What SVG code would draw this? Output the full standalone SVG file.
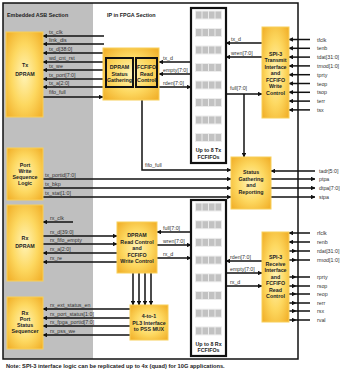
<svg xmlns="http://www.w3.org/2000/svg" width="345" height="372" viewBox="0 0 345 372">
<defs>
<radialGradient id="yg" cx="50%" cy="50%" r="65%">
<stop offset="0" stop-color="#FFF4B8"/>
<stop offset="0.55" stop-color="#FDD860"/>
<stop offset="1" stop-color="#F2B22C"/>
</radialGradient>
<marker id="ah" viewBox="0 0 10 10" refX="9" refY="5" markerWidth="4.6" markerHeight="4.6" markerUnits="userSpaceOnUse" orient="auto">
<path d="M0,0 L10,5 L0,10 z" fill="#111"/>
</marker>
<g id="row">
<rect x="0" y="-4.5" width="27" height="9" fill="#ececec"/>
<rect x="1" y="-3.5" width="5.5" height="7" fill="#c2c2c2"/>
<rect x="7.5" y="-3.5" width="5.5" height="7" fill="#c2c2c2"/>
<rect x="14" y="-3.5" width="5.5" height="7" fill="#c2c2c2"/>
<rect x="20.5" y="-3.5" width="5.5" height="7" fill="#c2c2c2"/>
</g>
</defs>
<style>
.y{fill:url(#yg);stroke:#F8CF5A;stroke-width:1}
.bx{fill:none;stroke:#111;stroke-width:2}
.fb{fill:#fff;stroke:#111;stroke-width:2.2}
.t{font-family:"Liberation Sans",Arial,sans-serif;font-size:5.3px;font-weight:bold;fill:#222;text-anchor:middle}
.s{font-family:"Liberation Sans",Arial,sans-serif;font-size:5.3px;fill:#333}
.h{font-family:"Liberation Sans",Arial,sans-serif;font-size:5.4px;font-weight:bold;fill:#222}
.w{fill:none;stroke:#111;stroke-width:1.5}
.a{fill:none;stroke:#111;stroke-width:1.5;marker-end:url(#ah)}
.m{fill:none;stroke:#111;stroke-width:1.5;marker-mid:url(#ah)}
</style>
<rect width="345" height="372" fill="#fff"/>
<rect x="3" y="3" width="90" height="356" fill="#bfbfbf"/>
<rect x="3" y="3" width="295" height="356" fill="none" stroke="#111" stroke-width="1.5"/>
<text class="h" x="7" y="17">Embedded ASB Section</text>
<text class="h" x="107" y="17">IP in FPGA Section</text>

<g id="connectors">
<path class="a" d="M104,36 H43"/>
<path class="a" d="M104,44 H43"/>
<path class="a" d="M105,53 H43"/>
<path class="a" d="M105,62 H43"/>
<path class="a" d="M105,70 H43"/>
<path class="a" d="M105,79 H43"/>
<path class="a" d="M105,87 H43"/>
<path class="a" d="M43,97 H103"/>
<path class="a" d="M191,62 H159"/>
<path class="a" d="M191,74 H159"/>
<path class="a" d="M159,87 H191"/>
<path class="a" d="M262,43 H226"/>
<path class="a" d="M262,57 H226"/>
<path class="a" d="M226,94 H262"/>
<path class="a" d="M244,94 V157"/>
<path class="a" d="M310,39.5 H289"/>
<path class="a" d="M310,48.3 H289"/>
<path class="a" d="M310,57.1 H289"/>
<path class="a" d="M310,65.9 H289"/>
<path class="a" d="M310,74.7 H289"/>
<path class="a" d="M310,83.5 H289"/>
<path class="a" d="M310,92.3 H289"/>
<path class="a" d="M310,101.1 H289"/>
<path class="a" d="M310,109.9 H289"/>
<path class="a" d="M142,100 V170 H231"/>
<path class="a" d="M43,179 H231"/>
<path class="a" d="M43,188 H231"/>
<path class="a" d="M43,197 H231"/>
<path class="a" d="M315,171 H271"/>
<path class="a" d="M271,179 H315"/>
<path class="a" d="M271,188 H315"/>
<path class="a" d="M271,197 H315"/>
<path class="a" d="M73,222 H43"/>
<path class="a" d="M43,236 H117"/>
<path class="a" d="M43,244 H117"/>
<path class="a" d="M117,253 H43"/>
<path class="a" d="M117,262 H43"/>
<path class="a" d="M191,232 H157"/>
<path class="a" d="M157,245 H191"/>
<path class="a" d="M157,258 H191"/>
<path class="a" d="M133,273 V305"/>
<path class="a" d="M139,273 V305"/>
<path class="a" d="M145,273 V305"/>
<path class="a" d="M151,273 V305"/>
<path class="a" d="M130,309 H43"/>
<path class="a" d="M130,318 H43"/>
<path class="a" d="M130,326 H43"/>
<path class="a" d="M130,335 H43"/>
<path class="a" d="M262,261 H226"/>
<path class="a" d="M226,273 H262"/>
<path class="a" d="M226,286 H262"/>
<path class="a" d="M310,233 H289"/>
<path class="a" d="M310,242 H289"/>
<path class="m" d="M289,251 H296 H310"/>
<path class="m" d="M289,260 H296 H310"/>
<path class="m" d="M289,277 H296 H310"/>
<path class="m" d="M289,286 H296 H310"/>
<path class="m" d="M289,294 H296 H310"/>
<path class="m" d="M289,303 H296 H310"/>
<path class="m" d="M289,311 H296 H310"/>
<path class="m" d="M289,320 H296 H310"/>
</g>

<g id="labels">
<text class="s" x="49" y="34">tx_clk</text>
<text class="s" x="49" y="42">link_dis</text>
<text class="s" x="49" y="51">tx_d[38:0]</text>
<text class="s" x="49" y="60">wd_cnt_rst</text>
<text class="s" x="49" y="68">tx_we</text>
<text class="s" x="49" y="77">tx_port[7:0]</text>
<text class="s" x="49" y="85">tx_a[2:0]</text>
<text class="s" x="49" y="94">fifo_full</text>
<text class="s" x="163" y="60">tx_d</text>
<text class="s" x="163" y="72">empty[7:0]</text>
<text class="s" x="163" y="85">rden[7:0]</text>
<text class="s" x="231" y="41">tx_d</text>
<text class="s" x="231" y="55">wren[7:0]</text>
<text class="s" x="230" y="90">full[7:0]</text>
<text class="s" x="317" y="41.5">tfclk</text>
<text class="s" x="317" y="50.3">tenb</text>
<text class="s" x="317" y="59.1">tdat[31:0]</text>
<text class="s" x="317" y="67.9">tmod[1:0]</text>
<text class="s" x="317" y="76.7">tprty</text>
<text class="s" x="317" y="85.5">teop</text>
<text class="s" x="317" y="94.3">tsop</text>
<text class="s" x="317" y="103.1">terr</text>
<text class="s" x="317" y="111.9">tsx</text>
<text class="s" x="145" y="167">fifo_full</text>
<text class="s" x="45" y="177">tx_portid[7:0]</text>
<text class="s" x="45" y="186">tx_bkp</text>
<text class="s" x="45" y="195">tx_stat[1:0]</text>
<text class="s" x="319" y="173">tadr[5:0]</text>
<text class="s" x="319" y="181">ptpa</text>
<text class="s" x="319" y="190">dtpa[7:0]</text>
<text class="s" x="319" y="199">stpa</text>
<text class="s" x="50" y="220">rx_clk</text>
<text class="s" x="50" y="234">rx_d[39:0]</text>
<text class="s" x="50" y="242">rx_fifo_empty</text>
<text class="s" x="50" y="251">rx_a[2:0]</text>
<text class="s" x="50" y="260">rx_re</text>
<text class="s" x="163" y="230">full[7:0]</text>
<text class="s" x="163" y="243">wren[7:0]</text>
<text class="s" x="163" y="256">rx_d</text>
<text class="s" x="50" y="307">rx_ext_status_en</text>
<text class="s" x="50" y="316">rx_port_status[1:0]</text>
<text class="s" x="50" y="324">rx_fpga_portid[7:0]</text>
<text class="s" x="50" y="333">rx_pss_we</text>
<text class="s" x="230" y="259">rden[7:0]</text>
<text class="s" x="230" y="271">empty[7:0]</text>
<text class="s" x="230" y="284">rx_d</text>
<text class="s" x="317" y="235">rfclk</text>
<text class="s" x="317" y="244">renb</text>
<text class="s" x="317" y="253">rdat[31:0]</text>
<text class="s" x="317" y="262">rmod[1:0]</text>
<text class="s" x="317" y="279">rprty</text>
<text class="s" x="317" y="288">rsop</text>
<text class="s" x="317" y="296">reop</text>
<text class="s" x="317" y="305">rerr</text>
<text class="s" x="317" y="313">rsx</text>
<text class="s" x="317" y="322">rval</text>
</g>

<g id="tx-dpram">
<rect class="y" x="6" y="32" width="37" height="85"/>
<text class="t" x="25" y="67">Tx</text>
<text class="t" x="25" y="76">DPRAM</text>
</g>
<g id="dpram-status">
<rect class="y" x="103" y="48" width="56" height="52"/>
<rect class="bx" x="106" y="58" width="27" height="29"/>
<rect class="bx" x="136" y="58" width="21" height="29"/>
<text class="t" x="119.5" y="69">DPRAM</text>
<text class="t" x="119.5" y="75.5">Status</text>
<text class="t" x="119.5" y="82">Gathering</text>
<text class="t" x="146.5" y="69">FCFIFO</text>
<text class="t" x="146.5" y="75.5">Read</text>
<text class="t" x="146.5" y="82">Control</text>
</g>
<g id="tx-fcfifos">
<rect class="fb" x="191" y="8" width="35" height="155"/>
<use href="#row" x="195" y="15"/>
<use href="#row" x="195" y="32.5"/>
<use href="#row" x="195" y="50"/>
<use href="#row" x="195" y="67.5"/>
<use href="#row" x="195" y="85"/>
<use href="#row" x="195" y="102.5"/>
<use href="#row" x="195" y="120"/>
<use href="#row" x="195" y="137.5"/>
<text class="t" x="208.5" y="152">Up to 8 Tx</text>
<text class="t" x="208.5" y="159">FCFIFOs</text>
</g>
<g id="spi3-tx">
<rect class="y" x="262" y="27" width="27" height="91"/>
<text class="t" x="275.5" y="55.5">SPI-3</text>
<text class="t" x="275.5" y="62">Transmit</text>
<text class="t" x="275.5" y="68.5">Interface</text>
<text class="t" x="275.5" y="75">and</text>
<text class="t" x="275.5" y="81.5">FCFIFO</text>
<text class="t" x="275.5" y="88">Write</text>
<text class="t" x="275.5" y="94.5">Control</text>
</g>
<g id="port-write">
<rect class="y" x="7" y="148" width="36" height="52"/>
<text class="t" x="25" y="167">Port</text>
<text class="t" x="25" y="173">Write</text>
<text class="t" x="25" y="179">Sequence</text>
<text class="t" x="25" y="185">Logic</text>
</g>
<g id="status">
<rect class="y" x="231" y="157" width="40" height="52"/>
<text class="t" x="251" y="174">Status</text>
<text class="t" x="251" y="180.5">Gathering</text>
<text class="t" x="251" y="187">and</text>
<text class="t" x="251" y="193.5">Reporting</text>
</g>
<g id="rx-dpram">
<rect class="y" x="7" y="205" width="36" height="76"/>
<text class="t" x="25" y="240">Rx</text>
<text class="t" x="25" y="248">DPRAM</text>
</g>
<g id="dpram-read">
<rect class="y" x="117" y="222" width="40" height="51"/>
<text class="t" x="137" y="237">DPRAM</text>
<text class="t" x="137" y="243.5">Read Control</text>
<text class="t" x="137" y="250">and</text>
<text class="t" x="137" y="256.5">FCFIFO</text>
<text class="t" x="137" y="263">Write Control</text>
</g>
<g id="mux">
<rect class="y" x="130" y="305" width="38" height="35"/>
<text class="t" x="149" y="318">4-to-1</text>
<text class="t" x="149" y="324.5">PL3 Interface</text>
<text class="t" x="149" y="331">to PSS MUX</text>
</g>
<g id="rx-port-status">
<rect class="y" x="7" y="297" width="36" height="52"/>
<text class="t" x="25" y="315">Rx</text>
<text class="t" x="25" y="321">Port</text>
<text class="t" x="25" y="327">Status</text>
<text class="t" x="25" y="333">Sequencer</text>
</g>
<g id="rx-fcfifos">
<rect class="fb" x="191" y="200" width="35" height="156"/>
<use href="#row" x="195" y="207"/>
<use href="#row" x="195" y="224.7"/>
<use href="#row" x="195" y="242.4"/>
<use href="#row" x="195" y="260.1"/>
<use href="#row" x="195" y="277.8"/>
<use href="#row" x="195" y="295.5"/>
<use href="#row" x="195" y="313.2"/>
<use href="#row" x="195" y="330.9"/>
<text class="t" x="208.5" y="346">Up to 8 Rx</text>
<text class="t" x="208.5" y="352">FCFIFOs</text>
</g>
<g id="spi3-rx">
<rect class="y" x="262" y="232" width="27" height="90"/>
<text class="t" x="275.5" y="259">SPI-3</text>
<text class="t" x="275.5" y="265.5">Receive</text>
<text class="t" x="275.5" y="272">Interface</text>
<text class="t" x="275.5" y="278.5">and</text>
<text class="t" x="275.5" y="285">FCFIFO</text>
<text class="t" x="275.5" y="291.5">Read</text>
<text class="t" x="275.5" y="298">Control</text>
</g>
<text class="h" x="6" y="368" style="font-size:5.7px">Note: SPI-3 interface logic can be replicated up to 4x (quad) for 10G applications.</text>
</svg>
